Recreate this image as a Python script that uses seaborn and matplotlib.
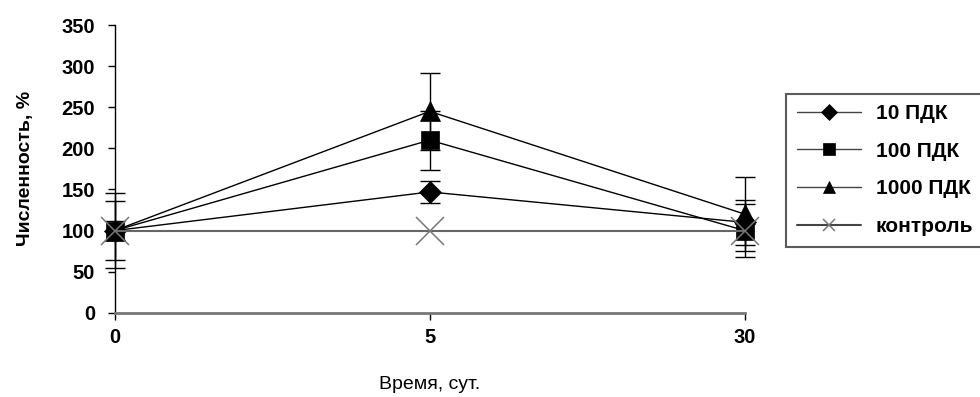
import matplotlib
matplotlib.use("Agg")
import matplotlib.pyplot as plt
import seaborn as sns
import pandas as pd

# data
days = ["0", "5", "30"]
series_names = ["10 ПДК", "100 ПДК", "1000 ПДК", "контроль"]
pdk10 = [100, 147, 110]
pdk100 = [100, 210, 100]
pdk1000 = [100, 245, 120]
control = [100, 100, 100]
err10 = [36, 13, 27]
err100 = [12, 36, 32]
err1000 = [46, 47, 45]

sns.set_theme(style="white")
plt.rcParams["font.family"] = ["Liberation Sans", "DejaVu Sans"]
plt.rcParams["text.color"] = "black"
plt.rcParams["axes.labelcolor"] = "black"

df = pd.DataFrame({
    "day": days * 4,
    "value": pdk10 + pdk100 + pdk1000 + control,
    "group": [n for n in series_names for _ in days],
})

fig, ax = plt.subplots(figsize=(9.8, 3.97), dpi=100)
fig.subplots_adjust(left=0.117, right=0.760, bottom=0.212, top=0.937)

markers = {"10 ПДК": "D", "100 ПДК": "s", "1000 ПДК": "^", "контроль": "x"}
sizes = {"10 ПДК": 11, "100 ПДК": 13, "1000 ПДК": 15, "контроль": 20}

for name, vals, err in [("10 ПДК", pdk10, err10), ("100 ПДК", pdk100, err100),
                        ("1000 ПДК", pdk1000, err1000)]:
    eb = ax.errorbar(days, vals, yerr=err, fmt="none", ecolor="black",
                     elinewidth=1, capsize=7, capthick=1, zorder=2)
    for art in eb.get_children():
        art.set_clip_on(False)

for name in series_names:
    sub = df[df["group"] == name]
    is_ctrl = name == "контроль"
    sns.lineplot(data=sub, x="day", y="value", ax=ax, label=name,
                 color="#666666" if is_ctrl else "black",
                 linewidth=1.5 if is_ctrl else 1,
                 marker=markers[name], markersize=sizes[name],
                 markeredgewidth=1.1 if is_ctrl else 0.5,
                 markeredgecolor="#777777" if is_ctrl else "black",
                 markerfacecolor="black", sort=False, zorder=3, clip_on=False)

ax.set_xlim(0, 2)
ax.set_ylim(0, 350)
ax.set_yticks(range(0, 351, 50))
for s in ["top", "right"]:
    ax.spines[s].set_visible(False)
ax.spines["left"].set_color("black")
ax.spines["bottom"].set_color("#777777")
ax.spines["left"].set_linewidth(1)
ax.spines["bottom"].set_linewidth(2)
ax.tick_params(axis="both", direction="out", length=5, width=1, colors="black",
               labelsize=14.5, bottom=True, left=True)
ax.tick_params(axis="y", pad=9)
ax.tick_params(axis="x", pad=6)
for lbl in ax.get_xticklabels() + ax.get_yticklabels():
    lbl.set_fontweight("bold")

ax.set_xlabel("Время, сут.", fontsize=14, labelpad=21)
ax.set_ylabel("Численность, %", fontsize=14, fontweight="bold", labelpad=20)

leg = ax.legend(loc="upper left", bbox_to_anchor=(1.066, 0.762), frameon=True,
                fancybox=False, edgecolor="#333333", prop={"weight": "bold", "size": 15},
                handlelength=3.1, handletextpad=0.7, labelspacing=0.9,
                borderpad=0.5, borderaxespad=0)
leg.get_frame().set_linewidth(1.5)
for h in leg.legend_handles:
    h.set_markersize(8)
    h.set_color("#444444")
    h.set_markerfacecolor("black")

fig.savefig("out.png", dpi=100)
